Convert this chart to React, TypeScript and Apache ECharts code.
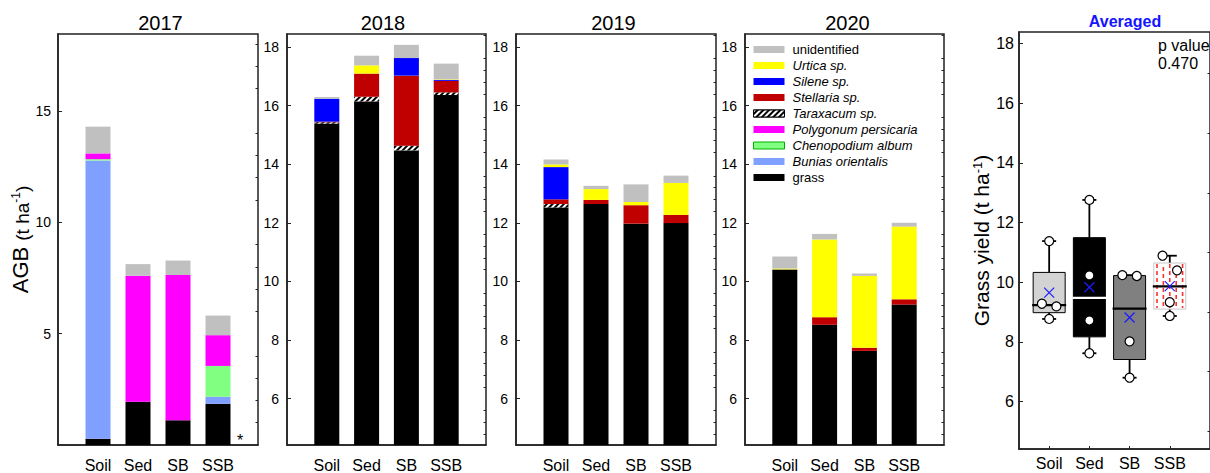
import { useEffect, useRef } from 'react';
import * as echarts from 'echarts';

const FONT = '"Liberation Sans", Arial, Helvetica, sans-serif';

// ---------------- data ----------------
const years = ['2017', '2018', '2019', '2020'];
const categories = ['Soil', 'Sed', 'SB', 'SSB'];

// AGB (t/ha) per year (rows) and treatment (columns), stacked bottom -> top
const grass = [[0.28, 1.94, 1.11, 1.85], [15.38, 16.14, 14.47, 16.36], [12.52, 12.64, 11.97, 11.99], [10.41, 8.52, 7.63, 9.21]];
const buniasOrientalis = [[12.49, 0, 0, 0.32], [0, 0, 0, 0], [0, 0, 0, 0], [0, 0, 0, 0]];
const chenopodiumAlbum = [[0.06, 0, 0, 1.38], [0, 0, 0, 0], [0, 0, 0, 0], [0, 0, 0, 0]];
const polygonumPersicaria = [[0.26, 5.66, 6.52, 1.38], [0, 0, 0, 0], [0, 0, 0, 0], [0, 0, 0, 0]];
const taraxacum = [[0, 0, 0, 0], [0.05, 0.16, 0.16, 0.09], [0.12, 0, 0, 0], [0, 0, 0, 0]];
const stellaria = [[0, 0, 0, 0], [0.02, 0.79, 2.39, 0.39], [0.16, 0.14, 0.63, 0.28], [0, 0.26, 0.11, 0.18]];
const silene = [[0, 0, 0, 0], [0.78, 0, 0.6, 0.03], [1.1, 0, 0, 0], [0, 0, 0, 0]];
const urtica = [[0, 0, 0, 0], [0, 0.28, 0, 0.02], [0.09, 0.37, 0.11, 1.09], [0.03, 2.65, 2.45, 2.48]];
const unidentified = [[1.2, 0.52, 0.65, 0.88], [0.06, 0.33, 0.45, 0.54], [0.17, 0.11, 0.6, 0.25], [0.41, 0.19, 0.08, 0.13]];

const speciesNames = ['grass', 'Bunias orientalis', 'Chenopodium album', 'Polygonum persicaria', 'Taraxacum sp.', 'Stellaria sp.', 'Silene sp.', 'Urtica sp.', 'unidentified'];
const speciesValues = [grass, buniasOrientalis, chenopodiumAlbum, polygonumPersicaria, taraxacum, stellaria, silene, urtica, unidentified];

// Averaged grass yield (t/ha), individual values per treatment
const avgSoil = [11.38, 9.28, 9.19, 8.77];
const avgSed = [12.76, 10.23, 8.72, 7.62];
const avgSB = [10.24, 10.21, 8.02, 6.8];
const avgSSB = [10.89, 10.4, 9.33, 8.87];
const avgGroups = [avgSoil, avgSed, avgSB, avgSSB];
const pValue = '0.470';

// tick labels
const ticks2017 = [5, 10, 15];
const ticksYears = [6, 8, 10, 12, 14, 16, 18];
const ticksAvg = [6, 8, 10, 12, 14, 16, 18];

// ---------------- styles / layout ----------------
const speciesColors = ['#000000', '#80a0ff', '#80ff80', '#ff00ff', '#000000', '#c00000', '#0000ff', '#ffff00', '#c0c0c0'];
const italicNames = new Set(['Urtica sp.', 'Silene sp.', 'Stellaria sp.', 'Taraxacum sp.', 'Polygonum persicaria', 'Chenopodium album', 'Bunias orientalis']);
const pointSide = [[0, -1, 1, 0], [0, 0, 0, 0], [-1, 1, 0, 0], [-1, 1, 0, 0]];
const boxFill = ['#d3d3d3', '#000000', '#808080', '#ffffff'];
const boxBorder = ['#000000', '#000000', '#000000', '#c8c8c8'];
const medianColor = ['#000000', '#ffffff', '#000000', '#000000'];
const boxHatch = [false, false, false, true];

const panelGrids = [
  { left: 58, top: 34, width: 200, height: 415 },
  { left: 287, top: 34, width: 199, height: 415 },
  { left: 516, top: 34, width: 200, height: 415 },
  { left: 745, top: 34, width: 199, height: 415 },
];
const avgGrid = { left: 1019, top: 32, width: 212, height: 417 };
const yearRanges = [[0, 18.45], [4.42, 18.44], [4.42, 18.44], [4.42, 18.44]];
const titleX = [160.5, 383, 613.5, 847.5];

function steps(a: number, b: number, s: number) {
  const out: number[] = [];
  for (let v = a; v <= b + 1e-9; v += s) out.push(Math.round(v * 100) / 100);
  return out;
}

function sortedStats(vals: number[]) {
  const s = [...vals].sort((a, b) => a - b);
  const med = (arr: number[]) => {
    const n = arr.length;
    return n % 2 ? arr[(n - 1) / 2] : (arr[n / 2 - 1] + arr[n / 2]) / 2;
  };
  const n = s.length;
  const half = Math.ceil(n / 2);
  const lower = s.slice(0, half);
  const upper = s.slice(n - half);
  const mean = s.reduce((a, b) => a + b, 0) / n;
  return [s[0], med(lower), med(s), med(upper), s[n - 1], mean];
}

const LINE = '#222';

function buildOption() {
  const grid: any[] = [...panelGrids, avgGrid].map((g) => ({
    ...g,
    show: true,
    borderColor: LINE,
    borderWidth: 1.5,
    backgroundColor: 'transparent',
    containLabel: false,
  }));

  const xAxis: any[] = panelGrids.map((_, gi) => ({
    type: 'category',
    gridIndex: gi,
    data: ['', ...categories, ''],
    boundaryGap: false,
    axisLine: { show: true, lineStyle: { color: LINE, width: 1.5 } },
    axisTick: { show: false },
    axisLabel: { interval: 0, fontSize: 16, color: '#000', margin: 12, fontFamily: FONT },
    splitLine: { show: false },
  }));
  xAxis.push({
    type: 'value',
    gridIndex: 4,
    min: 0.25,
    max: 5,
    axisLine: { show: true, lineStyle: { color: LINE, width: 1.5 } },
    axisTick: { show: true, inside: true, length: 3, customValues: [1, 2, 3, 4], lineStyle: { color: LINE, width: 1 } },
    axisLabel: {
      show: true,
      customValues: [1, 2, 3, 4],
      formatter: (v: number) => categories[Math.round(v) - 1] ?? '',
      fontSize: 16,
      color: '#000',
      margin: 6,
      fontFamily: FONT,
    },
    splitLine: { show: false },
  });

  const yAxis: any[] = [];
  const addY = (gi: number, min: number, max: number, labels: number[], minors: number[], fontSize: number, margin: number, name?: any) => {
    yAxis.push({
      type: 'value',
      gridIndex: gi,
      min,
      max,
      axisLine: { show: true, lineStyle: { color: LINE, width: 1.5 } },
      axisTick: { show: true, inside: true, length: 4, customValues: labels, lineStyle: { color: LINE, width: 1 } },
      axisLabel: { show: true, customValues: labels, fontSize, color: '#000', margin, fontFamily: FONT },
      splitLine: { show: false },
      ...(name || {}),
    });
    yAxis.push({
      type: 'value',
      gridIndex: gi,
      min,
      max,
      axisLine: { show: false },
      axisTick: { show: true, inside: true, length: 2.5, customValues: minors, lineStyle: { color: LINE, width: 1 } },
      axisLabel: { show: false },
      splitLine: { show: false },
    });
  };

  const nameAGB = {
    name: '{a|AGB }{b|(t ha}{s|-1}{b|)}',
    nameLocation: 'middle',
    nameGap: 24,
    nameRotate: 90,
    nameTextStyle: {
      color: '#000',
      rich: {
        a: { fontSize: 22, fontFamily: FONT, color: '#000', verticalAlign: 'bottom' },
        b: { fontSize: 19, fontFamily: FONT, color: '#000', verticalAlign: 'bottom' },
        s: { fontSize: 12, fontFamily: FONT, color: '#000', verticalAlign: 'top' },
      },
    },
  };
  const nameGrass = {
    name: '{b|Grass yield (t ha}{s|-1}{b|)}',
    nameLocation: 'middle',
    nameGap: 25,
    nameRotate: 90,
    nameTextStyle: {
      color: '#000',
      rich: {
        b: { fontSize: 21, fontFamily: FONT, color: '#000', verticalAlign: 'bottom' },
        s: { fontSize: 13, fontFamily: FONT, color: '#000', verticalAlign: 'top' },
      },
    },
  };

  yearRanges.forEach(([mn, mx], gi) => {
    if (gi === 0) {
      addY(gi, mn, mx, ticks2017, steps(1, 18, 1).filter((v) => !ticks2017.includes(v)), 14, 7, nameAGB);
    } else {
      addY(gi, mn, mx, ticksYears, steps(4.8, 18.4, 0.4).filter((v) => !ticksYears.some((t) => Math.abs(t - v) < 1e-6)), 14, 8);
    }
  });
  addY(4, 4.41, 18.39, ticksAvg, steps(5, 17, 2), 16, 5, nameGrass);

  const series: any[] = [];
  years.forEach((_, yi) => {
    speciesNames.forEach((sp, si) => {
      const vals = speciesValues[si][yi];
      const item: any = {
        type: 'bar',
        name: sp,
        xAxisIndex: yi,
        yAxisIndex: yi * 2,
        stack: 'year' + yi,
        barWidth: 25,
        data: ['-', ...vals.map((v) => (v > 0 ? v : '-')), '-'],
        itemStyle: { color: speciesColors[si] },
        emphasis: { disabled: true },
        silent: true,
      };
      if (sp === 'Taraxacum sp.') {
        item.itemStyle = {
          color: '#000',
          decal: {
            symbol: 'rect',
            color: '#ffffff',
            backgroundColor: '#000000',
            dashArrayX: [1, 0],
            dashArrayY: [2, 2],
            rotation: -Math.PI / 4,
          },
        };
      }
      series.push(item);
    });
  });

  // boxplots
  const boxData = avgGroups.map((g, i) => [i + 1, ...sortedStats(g)]);
  series.push({
    type: 'custom',
    xAxisIndex: 4,
    yAxisIndex: 8,
    silent: true,
    z: 3,
    encode: { x: 0, y: [1, 2, 3, 4, 5, 6] },
    data: boxData,
    renderItem: (params: any, api: any) => {
      const i = params.dataIndex;
      const x = api.value(0);
      const c = (v: number) => api.coord([x, v]);
      const [cx, yMin] = c(api.value(1));
      const yQ1 = c(api.value(2))[1];
      const yMed = c(api.value(3))[1];
      const yQ3 = c(api.value(4))[1];
      const yMax = c(api.value(5))[1];
      const yMean = c(api.value(6))[1];
      const bw = 32;
      const cap = 7;
      const ch: any[] = [];
      ch.push({ type: 'line', shape: { x1: cx, y1: yQ3, x2: cx, y2: yMax }, style: { stroke: '#000', lineWidth: 1.8 } });
      ch.push({ type: 'line', shape: { x1: cx, y1: yQ1, x2: cx, y2: yMin }, style: { stroke: '#000', lineWidth: 1.8 } });
      ch.push({ type: 'line', shape: { x1: cx - cap, y1: yMax, x2: cx + cap, y2: yMax }, style: { stroke: '#000', lineWidth: 1.8 } });
      ch.push({ type: 'line', shape: { x1: cx - cap, y1: yMin, x2: cx + cap, y2: yMin }, style: { stroke: '#000', lineWidth: 1.8 } });
      ch.push({
        type: 'rect',
        shape: { x: cx - bw / 2, y: yQ3, width: bw, height: yQ1 - yQ3 },
        style: { fill: boxFill[i], stroke: boxBorder[i], lineWidth: 1 },
      });
      if (boxHatch[i]) {
        const cols = 5;
        for (let k = 0; k < cols; k++) {
          const lx = cx - bw / 2 + (k + 0.5) * (bw / cols);
          ch.push({
            type: 'line',
            shape: { x1: lx, y1: yQ3 + 1, x2: lx, y2: yQ1 - 1 },
            style: { stroke: '#ff3030', lineWidth: 1.6, lineDash: [4, 3], lineDashOffset: k % 2 ? 3.5 : 0 },
          });
        }
      }
      ch.push({
        type: 'line',
        shape: { x1: cx - bw / 2 - 1, y1: yMed, x2: cx + bw / 2 + 1, y2: yMed },
        style: { stroke: medianColor[i], lineWidth: 2.2 },
      });
      const m = 5;
      ch.push({ type: 'line', shape: { x1: cx - m, y1: yMean - m, x2: cx + m, y2: yMean + m }, style: { stroke: '#1a1aff', lineWidth: 1.2 } });
      ch.push({ type: 'line', shape: { x1: cx - m, y1: yMean + m, x2: cx + m, y2: yMean - m }, style: { stroke: '#1a1aff', lineWidth: 1.2 } });
      return { type: 'group', children: ch };
    },
  });

  const pts: number[][] = [];
  avgGroups.forEach((g, i) => g.forEach((v, j) => pts.push([i + 1 + pointSide[i][j] * 0.18, v])));
  series.push({
    type: 'scatter',
    xAxisIndex: 4,
    yAxisIndex: 8,
    silent: true,
    z: 5,
    symbol: 'circle',
    symbolSize: 9,
    itemStyle: { color: '#ffffff', borderColor: '#000', borderWidth: 1.2, opacity: 1 },
    data: pts,
  });

  const legendOrder = [...speciesNames].reverse();

  const graphic: any[] = [];
  years.forEach((y, i) => {
    graphic.push({
      type: 'text',
      x: titleX[i],
      y: 22.5,
      style: { text: y, fontSize: 20, fontFamily: FONT, fill: '#000', align: 'center', verticalAlign: 'middle' },
    });
  });
  graphic.push({
    type: 'text',
    x: 1125,
    y: 21,
    style: { text: 'Averaged', fontSize: 16, fontWeight: 'bold', fontFamily: FONT, fill: '#1414ff', align: 'center', verticalAlign: 'middle' },
  });
  graphic.push({
    type: 'text',
    x: 240,
    y: 440,
    style: { text: '*', fontSize: 16, fontFamily: FONT, fill: '#000', align: 'center', verticalAlign: 'middle' },
  });
  graphic.push({
    type: 'text',
    x: 1158,
    y: 45,
    style: { text: 'p value', fontSize: 16, fontFamily: FONT, fill: '#000', align: 'left', verticalAlign: 'middle' },
  });
  graphic.push({
    type: 'text',
    x: 1158,
    y: 63,
    style: { text: pValue, fontSize: 16, fontFamily: FONT, fill: '#000', align: 'left', verticalAlign: 'middle' },
  });

  return {
    animation: false,
    textStyle: { fontFamily: FONT },
    grid,
    xAxis,
    yAxis,
    series,
    graphic,
    legend: {
      orient: 'vertical',
      left: 753,
      top: 43,
      itemWidth: 31,
      itemHeight: 7,
      itemGap: 3,
      icon: 'rect',
      selectedMode: false,
      padding: 0,
      textStyle: { fontSize: 13, color: '#000', fontFamily: FONT, padding: [0, 0, 0, 3] },
      data: legendOrder.map((name) => {
        const d: any = { name };
        if (italicNames.has(name)) d.textStyle = { fontStyle: 'italic', fontSize: 13, color: '#000', fontFamily: FONT, padding: [0, 0, 0, 3] };
        if (name === 'Chenopodium album') d.itemStyle = { borderColor: '#00b000', borderWidth: 1 };
        if (name === 'Taraxacum sp.') d.itemStyle = { borderColor: '#000', borderWidth: 1 };
        return d;
      }),
    },
  };
}

export default function App() {
  const ref = useRef<HTMLDivElement>(null);
  useEffect(() => {
    if (!ref.current) return;
    const chart = echarts.init(ref.current, undefined, { renderer: 'svg' });
    chart.setOption(buildOption() as any);
    return () => chart.dispose();
  }, []);
  return (
    <div
      ref={ref}
      style={{ position: 'fixed', left: 0, top: 0, width: 1210, height: 473, background: '#fff' }}
    />
  );
}
